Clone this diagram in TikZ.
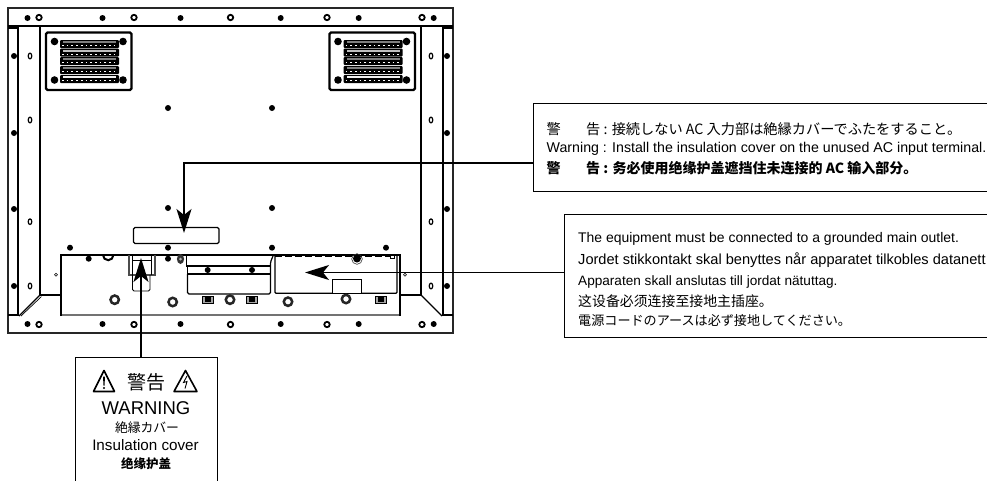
\documentclass[tikz,border=0pt]{standalone}
\usepackage{fontspec}
\setmainfont{Liberation Sans}
\newfontfamily\jpfont{Noto Sans CJK JP}
\newfontfamily\zhfont{Noto Sans CJK SC}
\usetikzlibrary{arrows.meta}
\tikzset{
  ln/.style={draw=black,line width=1.2pt},
  heavy/.style={draw=black!85,line width=1.9pt},
  grayln/.style={draw=black!55,line width=1.8pt},
  conn/.style={draw=black,line width=1.3pt},
  tipped/.style={conn,-{Stealth[length=24pt,width=15pt,inset=6pt]}},
  note/.style={draw=black,line width=1.2pt,fill=none,inner sep=0pt,anchor=north west},
  txt/.style={anchor=west,inner sep=0pt,font=\fontsize{14.2}{16}\selectfont},
  ctr/.style={anchor=center,inner sep=0pt},
}
\newcommand{\fs}[1]{\fontsize{#1}{16}\selectfont}
\newcommand{\fdot}[2]{\fill[black] (#1,#2) circle (3pt);}
\newcommand{\rring}[2]{\draw[black,line width=1.8pt,fill=white] (#1,#2) circle (2.7pt);}
\newcommand{\ovalhole}[2]{\draw[black,line width=1.2pt,fill=white] (#1,#2) ellipse (1.8pt and 2.8pt);}
\newcommand{\bring}[2]{\draw[black!85,line width=2.5pt,fill=white] (#1,#2) circle (4.2pt);}
\newcommand{\sqcon}[2]{\draw[black,line width=.8pt,fill=black!35] (#1-5.5,#2-3.5) rectangle (#1+5.5,#2+3.5);\fill[black] (#1-3,#2-2.5) rectangle (#1+3,#2+2.5);}
\newcommand{\grille}[1]{%
  \begin{scope}[shift={(#1,0)}]
    \draw[black,line width=2.2pt,fill=white,rounded corners=1.5pt] (0,32.5) rectangle (85.5,90);
    \foreach \y/\g in {44/50,52.5/25,61/50,70/50,79/5}{
      \fill[black,rounded corners=1pt] (14,\y-4) rectangle (73,\y+4);
      \fill[black!\g] (17,\y-3) rectangle (70,\y-.6);
      \draw[white,line width=.7pt,dash pattern=on 1.7pt off 3pt] (16,\y+1.5) -- (71,\y+1.5);
    }
    \foreach \x/\y in {8.5/41.5,77/41.5,8.5/80,77/80}{\fill[black] (\x,\y) circle (3.8pt);}
  \end{scope}}
\begin{document}
\begin{tikzpicture}[x=1pt,y=-1pt]
\useasboundingbox (0,0) rectangle (987,480);
\clip (0,0) rectangle (987,480);
% monitor frame
\draw[heavy] (8,8) rectangle (453,333);
\draw[ln] (8,26) -- (453,26);
\draw[ln] (8,28) -- (18,28);
\draw[ln] (443,28) -- (453,28);
\draw[ln] (18,25) -- (18,316);
\draw[ln] (40,26) -- (40,295);
\draw[ln] (421,26) -- (421,295);
\draw[ln] (443,25) -- (443,316);
\draw[ln] (8,315) -- (19,315);
\draw[ln] (443,315) -- (453,315);
\draw[ln] (40,295) -- (61,295);
\draw[ln] (400,295) -- (421,295);
\draw[ln] (40,295) -- (19,316);
\draw[line width=.7pt] (41.5,296.5) -- (21,316);
\draw[ln] (421,295) -- (442,316);
\draw[grayln] (61,315) -- (400,315);
\draw[ln] (61,316) -- (61,255) -- (400,255) -- (400,316);
% vents
\grille{46}
\grille{329.5}
% rows of dots
\foreach \x in {27.5,102.5,180.5,280.7,358.7,433.7}{\fdot{\x}{18}\fdot{\x}{324}}
\foreach \x in {39,134,230.5,327,422}{\rring{\x}{17.5}\rring{\x}{324.5}}
\foreach \y in {56,133,209,286}{\fdot{14}{\y}\fdot{447}{\y}}
\foreach \y in {56,120,221.7,286}{\ovalhole{30}{\y}\ovalhole{431}{\y}}
\foreach \x/\y in {168/108,272/108,168/208,272/208,70/247.7,168/247.7,272/247.7,386/247.7,88.7/258.7,168/258.7,207.7/270,252/270}{\fdot{\x}{\y}}
% label plate
\draw[ln,rounded corners=1.5pt] (133.5,227.5) rectangle (219,243.5);
% lower panel details
\draw[black,line width=2pt] (103,255) arc[start angle=180,end angle=360,radius=5.2pt];
\draw[black,line width=.6pt] (56,274.7) circle (1.5pt);
\draw[black!70,line width=2pt] (128.5,255) -- (128.5,275) -- (155,275) -- (155,255);
\draw[black,line width=1pt] (132,256) -- (132,275) (151,256) -- (151,275) (132,260) -- (151,260);
\draw[black,line width=.9pt,rounded corners=1.5pt] (132.5,275) -- (132.5,291) -- (150,291) -- (150,275);
\fill[black!80] (180.5,259) ellipse (3.6pt and 5pt);
\fill[black!30] (180.5,259) circle (1.5pt);
\draw[ln] (186.5,255) -- (186.5,266) -- (270,266);
\draw[ln] (187.5,266) -- (187.5,274) -- (270.7,274);
\draw[ln,rounded corners=1.5pt] (187.5,274) -- (187.5,294) -- (270.5,294) -- (270.5,262) -- (273,256);
\draw[ln,rounded corners=1pt] (275,256) -- (275,293.3) -- (397,293.3) -- (397,256);
\draw[black,line width=.9pt,fill=white] (332.5,279.5) rectangle (361.5,293.3);
\draw[black,line width=1.3pt,dash pattern=on 7pt off 3pt] (275,256.5) -- (392,256.5);
\fill[black] (357,258.5) circle (4pt);
\draw[black!80,line width=.6pt] (357,259) circle (5.3pt);
\draw[black,line width=.6pt,fill=white] (390,255.5) rectangle (394,258.5);
\draw[black,line width=.6pt] (405,274.7) circle (1.5pt);
\bring{114.7}{299.7}\bring{172.7}{302}\bring{230}{299.7}\bring{288}{301.7}\bring{346}{299}
\sqcon{207.7}{299.7}\sqcon{252}{299.7}\sqcon{381}{299.7}
% note boxes
\node[note,minimum width=462pt,minimum height=88pt] (notea) at (532.5,103) {};
\node[note,minimum width=430pt,minimum height=123pt] (noteb) at (563.5,214) {};
\node[note,minimum width=141.5pt,minimum height=130pt] (notec) at (75,356.7) {};
% connectors
\coordinate (tipa) at (184,233);
\coordinate (benda) at (184,163);
\coordinate (tipb) at (305,272.5);
\coordinate (tipc) at (141,258);
\draw[tipped] (notea.west |- benda) -- (benda) -- (tipa);
\draw[tipped] (noteb.west |- tipb) -- (tipb);
\draw[tipped] (tipc |- notec.north) -- (tipc);
% first note text
\node[txt] (a1a) at (546.5,129) {\jpfont 警};
\node[txt] (a1b) at (586,129) {\jpfont 告 : 接続しない AC 入力部は絶縁カバーでふたをすること。};
\node[txt] (a2) at (546.5,148.5) {Warning : Install the insulation cover on the unused AC input terminal.};
\node[txt] (a3a) at (546.5,168) {\fs{14}\zhfont\bfseries 警};
\node[txt] (a3b) at (586,168) {\fs{14}\zhfont\bfseries 告 : 务必使用绝缘护盖遮挡住未连接的 AC 输入部分。};
% second note text
\node[txt] (b1) at (578,239) {\fs{13.95}The equipment must be connected to a grounded main outlet.};
\node[txt] (b2) at (578,260) {\fs{14.6}Jordet stikkontakt skal benyttes når apparatet tilkobles datanett};
\node[txt] (b3) at (578,281.5) {\fs{13.6}Apparaten skall anslutas till jordat nätuttag.};
\node[txt] (b4) at (578,301) {\fs{13.9}\zhfont 这设备必须连接至接地主插座。};
\node[txt] (b5) at (578,321) {\fs{13.1}\jpfont 電源コードのアースは必ず接地してください。};
% third note
\draw[black,line width=1.6pt,line join=round] (104,370.5) -- (114.5,391.5) -- (93.5,391.5) -- cycle;
\fill[black] (103,376.5) -- (105,376.5) -- (104.5,385.5) -- (103.5,385.5) -- cycle;
\fill[black] (104,388) circle (1.1pt);
\draw[black,line width=1.6pt,line join=round] (185.5,370.5) -- (197,391.5) -- (174,391.5) -- cycle;
\draw[black,line width=.9pt] (187,376) -- (183.5,382.5) -- (187,381.5) -- (185,388.5);
\node[ctr,font=\fontsize{19}{22}\selectfont] (c0) at (146.7,382) {\jpfont 警告};
\node[ctr,font=\fontsize{18.5}{20}\selectfont] (c1) at (146,408) {WARNING};
\node[ctr,font=\fontsize{12.8}{15}\selectfont] (c2) at (147,428) {\jpfont 絶縁カバー};
\node[ctr,font=\fontsize{15.2}{16}\selectfont] (c3) at (145.5,445) {Insulation cover};
\node[ctr,font=\fontsize{12.5}{15}\selectfont] (c4) at (146,464) {\zhfont\bfseries 绝缘护盖};
\end{tikzpicture}
\end{document}
